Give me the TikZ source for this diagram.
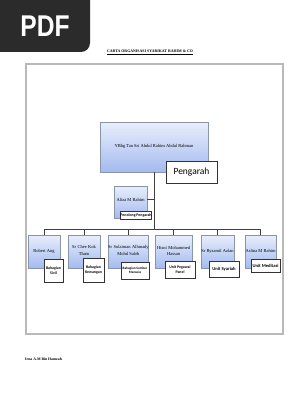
\documentclass[tikz,border=0pt]{standalone}
\usepackage{fontspec}
\setmainfont{Liberation Serif}
\newfontfamily\labfont{Carlito}
\newfontfamily\pdffont{Liberation Sans}
\usetikzlibrary{shadows}
\definecolor{boxtop}{HTML}{E8EEFB}
\definecolor{boxbot}{HTML}{A4BBF0}
\definecolor{boxedge}{HTML}{8A94A8}
\definecolor{banner}{HTML}{2B2B2B}
\tikzset{
  person/.style={draw=boxedge, line width=0.6pt, top color=boxtop, bottom color=boxbot,
    inner sep=0pt, align=center, font=\fontsize{4.5}{5.2}\selectfont,
    drop shadow={shadow xshift=0.6pt, shadow yshift=-0.6pt, fill=black!25}},
  role/.style={draw=black!80, line width=0.5pt, fill=white, inner sep=0pt, align=center,
    font=\labfont\bfseries\fontsize{3.9}{4.3}\selectfont,
    drop shadow={shadow xshift=0.7pt, shadow yshift=-0.7pt, fill=black!35}},
  link/.style={draw=black!75, line width=0.6pt},
}
\begin{document}
\begin{tikzpicture}[x=1pt,y=-1pt]
\useasboundingbox (0,0) rectangle (298,396);
% PDF banner
\fill[banner, rounded corners=9pt] (0,-10) -- (90,-10) -- (90,52) -- (0,52) -- cycle;
\fill[banner] (0,0) rectangle (80,52);
\fill[banner] (0,0) rectangle (90,30);
\node[text=white, font=\pdffont\bfseries\fontsize{30}{31}\selectfont, inner sep=0pt, xscale=0.82] (pdf) at (45,26) {PDF};
% title
\node[font=\bfseries\fontsize{3.9}{4.5}\selectfont, inner sep=0pt] (title) at (150,52) {\underline{CARTA ORGANISASI SYARIKAT RAHIM \& CO}};
% frame
\draw[gray!55, line width=1.3pt] (26,64) rectangle (283,334);
% top
\node[person, minimum width=108pt, minimum height=50pt] (top) at (154,147) {\raisebox{3pt}{YBhg Tan Sri Abdul Rahim Abdul Rahman}};
% connectors
\coordinate (bar) at (154,229);
\coordinate (aj) at (154,199);
\draw[link] (top.south) -- (bar);
\draw[link] (45,229) -- (261,229);
\node[person, minimum width=33pt, minimum height=32pt] (aliza) at (130.5,202) {\raisebox{5pt}{Aliza M Rahim}};
\draw[link] (aj) -- (aliza.east |- aj);
\node[role, font=\labfont\fontsize{9.5}{10}\selectfont, minimum width=51pt, minimum height=22pt, line width=0.6pt] (peng) at (191.5,172) {Pengarah};
\node[role, minimum width=30pt, minimum height=8pt] (pp) at (136,215) {Penolong Pengarah};
% bottom row
\node[person, minimum width=32pt, minimum height=33pt] (p1) at (44,251.5) {\raisebox{2pt}{Robert Ang}};
\node[person, minimum width=32pt, minimum height=33pt, text width=30pt] (p2) at (84,251.5) {\raisebox{2pt}{\shortstack{Sr Chee Kok\\Tham}}};
\node[person, minimum width=40pt, minimum height=33pt, text width=40pt] (p3) at (128,251.5) {\raisebox{2pt}{\shortstack{Sr Sulaiman Alhmady\\Mohd Saleh}}};
\node[person, minimum width=37pt, minimum height=33pt, text width=36pt] (p4) at (173.5,251.5) {\raisebox{2pt}{\shortstack{Hisni Mohammed\\Hassan}}};
\node[person, minimum width=33pt, minimum height=33pt] (p5) at (217.5,251.5) {\raisebox{2pt}{Sr Ryzamil Azlan}};
\node[person, minimum width=31pt, minimum height=33pt] (p6) at (260.5,251.5) {\raisebox{2pt}{Aslina M Rahim}};
\foreach \p in {p1,p2,p3,p4,p5,p6} \draw[link] (\p.north) -- (\p.north |- bar);
\node[role, minimum width=19pt, minimum height=23pt] (r1) at (53.5,270.5) {Bahagian\\Sivil};
\node[role, minimum width=21pt, minimum height=24pt] (r2) at (93.5,270) {Bahagian\\Kewangan};
\node[role, minimum width=28pt, minimum height=17pt, font=\labfont\bfseries\fontsize{3.4}{4}\selectfont] (r3) at (135,270.5) {Bahagian Sumber\\Manusia};
\node[role, minimum width=30pt, minimum height=17pt] (r4) at (180,269.5) {Unit Pegawai\\Panel};
\node[role, minimum width=30pt, minimum height=16pt, font=\labfont\bfseries\fontsize{4.6}{5}\selectfont] (r5) at (224,269) {Unit Syariah};
\node[role, minimum width=29pt, minimum height=13pt, font=\labfont\bfseries\fontsize{4.6}{5}\selectfont] (r6) at (265.5,265.5) {Unit Meditasi};
% footer
\node[font=\bfseries\fontsize{3.8}{4.5}\selectfont, inner sep=0pt, anchor=west] (foot) at (25,359) {Irna A.M Bin Hamzah};
\end{tikzpicture}
\end{document}
